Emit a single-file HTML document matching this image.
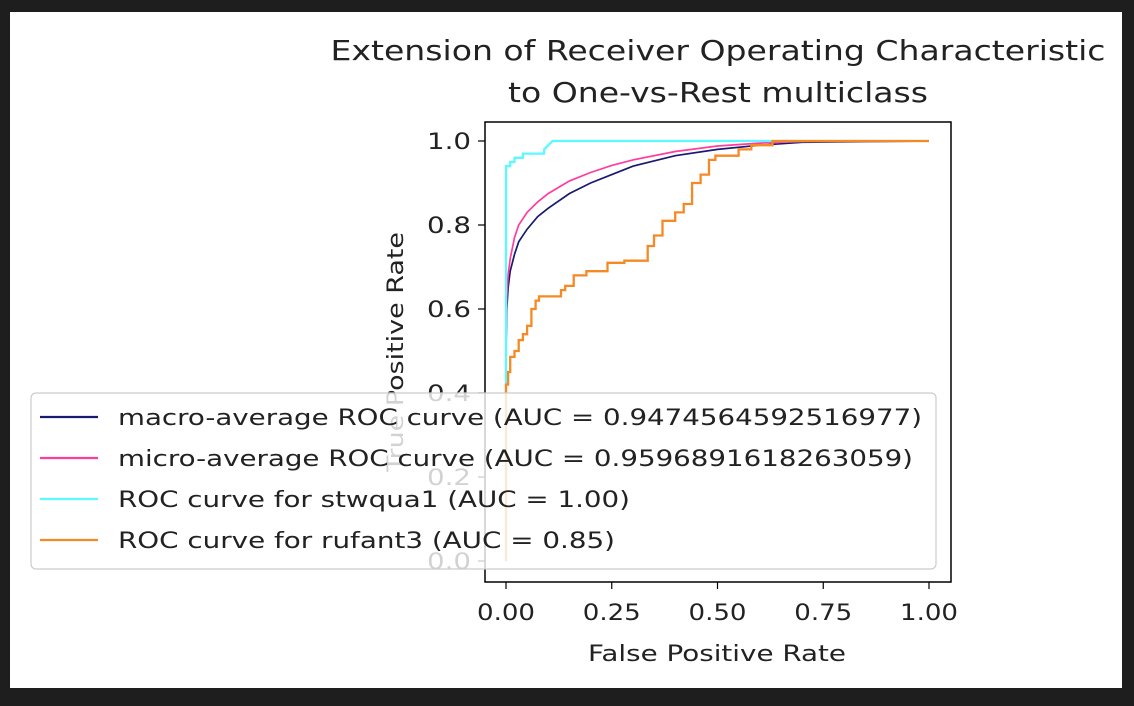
<!DOCTYPE html>
<html><head><meta charset="utf-8"><style>
html,body{margin:0;padding:0;background:#1e1e1e;}
svg{display:block;font-family:"DejaVu Sans","Liberation Sans",sans-serif;}
</style></head><body>
<svg id="chart" width="1134" height="706" viewBox="0 0 1134 706">
<rect x="10" y="12" width="1112" height="676" fill="#ffffff"/>
<text x="718" y="60" text-anchor="middle" font-size="28" textLength="775" lengthAdjust="spacingAndGlyphs" fill="#222">Extension of Receiver Operating Characteristic</text>
<text x="718" y="102" text-anchor="middle" font-size="28" textLength="420" lengthAdjust="spacingAndGlyphs" fill="#222">to One-vs-Rest multiclass</text>
<g id="axes"></g>
<g id="series"></g>
<rect x="485" y="122" width="466" height="460" fill="none" stroke="#000" stroke-width="1.5"/>
<text x="717" y="661" text-anchor="middle" font-size="22" textLength="258" lengthAdjust="spacingAndGlyphs" fill="#222">False Positive Rate</text>
<text transform="translate(403,352) rotate(-90)" text-anchor="middle" font-size="22" textLength="240" lengthAdjust="spacingAndGlyphs" fill="#222">True Positive Rate</text>
<g id="legend">
<rect x="31" y="393" width="905" height="176" rx="5" fill="#fff" fill-opacity="0.8" stroke="#ccc" stroke-width="1.2"/>
</g>
</svg>
<script>
const xTicks=[0,0.25,0.5,0.75,1];
const xTickLabels=["0.00","0.25","0.50","0.75","1.00"];
const yTicks=[0,0.2,0.4,0.6,0.8,1.0];
const yTickLabels=["0.0","0.2","0.4","0.6","0.8","1.0"];
const seriesNames=["macro-average ROC curve (AUC = 0.9474564592516977)","micro-average ROC curve (AUC = 0.9596891618263059)","ROC curve for stwqua1 (AUC = 1.00)","ROC curve for rufant3 (AUC = 0.85)"];
const legendWidths=[804,795,512,497];
const macroFpr=[0,0,0.002,0.005,0.01,0.02,0.03,0.05,0.075,0.1,0.15,0.2,0.25,0.3,0.4,0.5,0.6,0.7,1];
const macroTpr=[0,0.5,0.6,0.65,0.69,0.73,0.76,0.79,0.82,0.84,0.875,0.9,0.92,0.94,0.965,0.98,0.99,0.997,1];
const microFpr=[0,0,0.002,0.005,0.01,0.02,0.03,0.05,0.075,0.1,0.15,0.2,0.25,0.3,0.4,0.5,0.6,0.7,1];
const microTpr=[0,0.52,0.63,0.68,0.72,0.77,0.8,0.83,0.855,0.875,0.905,0.925,0.942,0.955,0.975,0.988,0.995,0.999,1];
const stwFpr=[0,0,0.01,0.01,0.02,0.02,0.04,0.04,0.09,0.09,0.11,1];
const stwTpr=[0,0.94,0.94,0.95,0.95,0.96,0.96,0.97,0.97,0.98,1,1];
const rufFpr=[0,0.005,0.01,0.02,0.03,0.04,0.05,0.06,0.07,0.078,0.085,0.13,0.14,0.16,0.19,0.24,0.28,0.335,0.35,0.37,0.4,0.42,0.44,0.46,0.48,0.495,0.55,0.58,0.63,0.68,1];
const rufTpr=[0.4,0.42,0.45,0.486,0.5,0.526,0.54,0.56,0.6,0.62,0.63,0.63,0.645,0.655,0.68,0.69,0.71,0.715,0.75,0.775,0.81,0.83,0.85,0.9,0.92,0.955,0.965,0.98,0.99,1,1];
const colors=["#191970","#ff3d9e","#5ef8ff","#f58a24"];
const NS="http://www.w3.org/2000/svg";
const X=v=>506+423*v, Y=v=>561-420*v;
const axes=document.getElementById('axes'), ser=document.getElementById('series'), leg=document.getElementById('legend');
function mk(t,a,p){const e=document.createElementNS(NS,t);for(const k in a)e.setAttribute(k,a[k]);p.appendChild(e);return e;}
xTicks.forEach((v,i)=>{
 const l=mk('line',{x1:X(v),x2:X(v),y1:582,y2:589,stroke:'#000','stroke-width':1.2},axes);
 
 
 const t=mk('text',{x:X(v),y:620,'text-anchor':'middle','font-size':22,textLength:58,lengthAdjust:'spacingAndGlyphs',fill:'#222'},axes);
 t.textContent=xTickLabels[i];
 
 
});
yTicks.forEach((v,i)=>{
 const l=mk('line',{x1:478,x2:485,y1:Y(v),y2:Y(v),stroke:'#000','stroke-width':1.2},axes);
 
 
 const t=mk('text',{x:471,y:Y(v)+8,'text-anchor':'end','font-size':22,textLength:44,lengthAdjust:'spacingAndGlyphs',fill:'#222'},axes);
 t.textContent=yTickLabels[i];
 
 
});
function path(f,t,step){
 let d='M'+X(f[0]).toFixed(1)+','+Y(t[0]).toFixed(1);
 for(let j=1;j<f.length;j++){
  if(step) d+=' L'+X(f[j-1]).toFixed(1)+','+Y(t[j]).toFixed(1);
  d+=' L'+X(f[j]).toFixed(1)+','+Y(t[j]).toFixed(1);
 }
 return d;
}
const all=[[macroFpr,macroTpr,false],[microFpr,microTpr,false],[stwFpr,stwTpr,false],[[0].concat(rufFpr),[0].concat(rufTpr),true]];
const names=['macro-average-line','micro-average-line','stwqua1-roc-line','rufant3-roc-line'];
all.forEach((s,i)=>{
 const p=mk('path',{d:path(s[0],s[1],s[2]),fill:'none',stroke:colors[i],'stroke-width':i<2?1.7:2.3},ser);
 
 
});
seriesNames.forEach((n,i)=>{
 const y=417+i*41;
 const l=mk('line',{x1:40,x2:98,y1:y,y2:y,stroke:colors[i],'stroke-width':2.2},leg);
 
 
 const t=mk('text',{x:118,y:y+8,'font-size':22.5,textLength:legendWidths[i],lengthAdjust:'spacingAndGlyphs',fill:'#222'},leg);
 t.textContent=n;
 
 
});
</script>
</body></html>
